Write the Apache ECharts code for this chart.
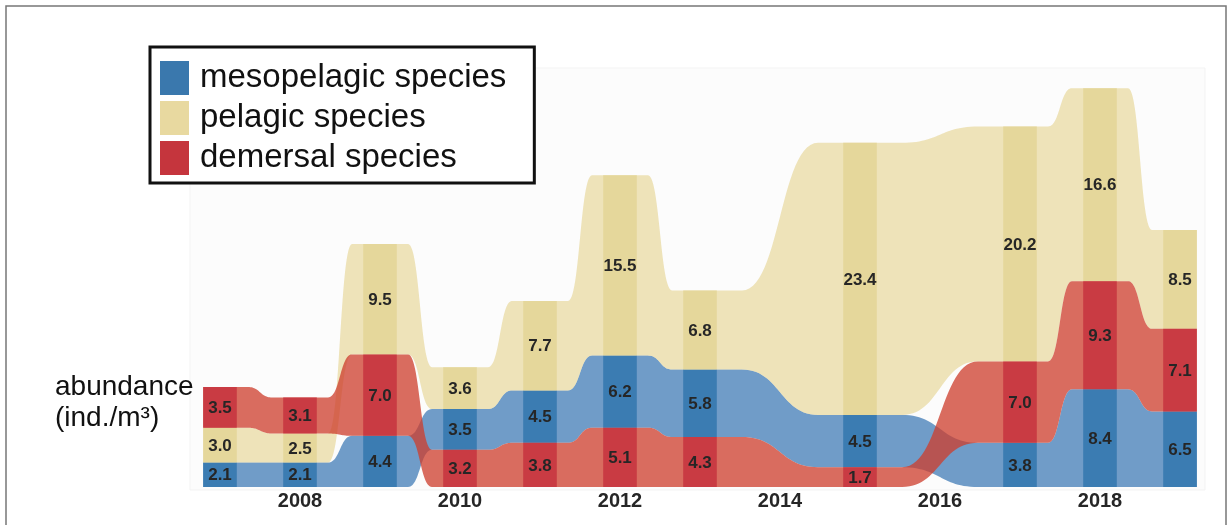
<!DOCTYPE html>
<html>
<head>
<meta charset="utf-8">
<script src="https://cdn.jsdelivr.net/npm/echarts@6/dist/echarts.min.js"></script>
<style>html,body{margin:0;padding:0;background:#fff}#c{width:1231px;height:525px}</style>
</head>
<body>
<div id="c"></div>
<script>
// ---- data ----
const years = ['2007','2008','2009','2010','2011','2012','2013','2014','2015','2016','2017','2018','2019'];
const mesopelagic = [2.1, 2.1, 4.4, 3.5, 4.5, 6.2, 5.8, null, 4.5, null, 3.8, 8.4, 6.5];
const pelagic     = [3.0, 2.5, 9.5, 3.6, 7.7, 15.5, 6.8, null, 23.4, null, 20.2, 16.6, 8.5];
const demersal    = [3.5, 3.1, 7.0, 3.2, 3.8, 5.1, 4.3, null, 1.7, null, 7.0, 9.3, 7.1];
const speciesNames = ['mesopelagic species', 'pelagic species', 'demersal species'];
const yTitle = 'abundance\n(ind./m³)';

// ---- styles ----
const ribbonColors = ['rgba(45,110,175,0.68)', 'rgba(225,205,130,0.55)', 'rgba(205,62,45,0.76)'];
const barColors = ['#3b7cb2', '#e5d79b', '#c93b43'];
const legendColors = ['#3a78ad', '#e8d9a0', '#c5353d'];
const FONT = '"Liberation Sans", Arial, sans-serif';

const seriesVals = [mesopelagic, pelagic, demersal];

function stackAt(i, s) {
  const v = seriesVals[s][i];
  if (v == null) return null;
  let bottom = 0;
  for (let k = 0; k < seriesVals.length; k++) {
    if (k === s) continue;
    const o = seriesVals[k][i];
    if (o == null) continue;
    if (o < v || (o === v && k < s)) bottom += o;
  }
  return [bottom, bottom + v];
}

function bez(p0, p1, p2, p3, n, out) {
  for (let j = 1; j <= n; j++) {
    const t = j / n, u = 1 - t;
    out.push([
      u*u*u*p0[0] + 3*u*u*t*p1[0] + 3*u*t*t*p2[0] + t*t*t*p3[0],
      u*u*u*p0[1] + 3*u*u*t*p1[1] + 3*u*t*t*p2[1] + t*t*t*p3[1]
    ]);
  }
}

function edge(pts, key, band, we) {
  const out = [];
  for (let k = 0; k < pts.length; k++) {
    const p = pts[k];
    const y = p[key];
    if (k === 0) {
      out.push([p.x - we, y]);
    } else {
      const prev = pts[k - 1];
      const gap = (p.x - prev.x) / band;               // in years
      const tw = band * (0.3 + (gap - 1) * 0.65);       // transition width
      const mid = (prev.x + p.x) / 2;
      const a = [mid - tw / 2, prev[key]];
      const b = [mid + tw / 2, y];
      out.push(a.slice());
      const m = (b[0] - a[0]) * 0.5;
      bez(a, [a[0] + m, a[1]], [b[0] - m, b[1]], b, 28, out);
    }
    if (k === pts.length - 1) out.push([p.x + we, y]);
  }
  return out;
}

function ribbonItem(params, api) {
  const s = api.value(2);
  const band = api.size([1, 0])[0];
  const we = band * 0.21;
  const pts = [];
  for (let i = 0; i < years.length; i++) {
    const st = stackAt(i, s);
    if (!st) continue;
    pts.push({
      x: api.coord([i, 0])[0],
      b: api.coord([i, st[0]])[1],
      t: api.coord([i, st[1]])[1]
    });
  }
  const top = edge(pts, 't', band, we);
  const bottom = edge(pts, 'b', band, we).reverse();
  return {
    type: 'polygon',
    shape: { points: top.concat(bottom) },
    style: { fill: ribbonColors[s] }
  };
}

function barItem(params, api) {
  const i = api.value(0), b = api.value(1), t = api.value(2), s = api.value(3);
  const band = api.size([1, 0])[0];
  const bw = band * 0.42;
  const x = api.coord([i, 0])[0];
  const y0 = api.coord([i, b])[1], y1 = api.coord([i, t])[1];
  return {
    type: 'group',
    children: [
      { type: 'rect', shape: { x: x - bw / 2, y: y1, width: bw, height: y0 - y1 }, style: { fill: barColors[s] } },
      { type: 'text', style: { text: seriesVals[s][i].toFixed(1), x: x, y: (y0 + y1) / 2 + 1, align: 'center', verticalAlign: 'middle',
        fontFamily: FONT, fontWeight: 'bold', fontSize: 17, fill: '#262626' } }
    ]
  };
}

const ribbonData = speciesNames.map((n, s) => [0, 0, s]);
const barData = [];
for (let i = 0; i < years.length; i++) {
  for (let s = 0; s < seriesVals.length; s++) {
    const st = stackAt(i, s);
    if (st) barData.push([i, st[0], st[1], s]);
  }
}

const chart = echarts.init(document.getElementById('c'), null, { renderer: 'canvas' });
chart.setOption({
  animation: false,
  backgroundColor: '#fff',
  grid: { left: 180, right: 11, top: 80, bottom: 38 },
  xAxis: {
    type: 'category', data: years, boundaryGap: true,
    axisLine: { show: false }, axisTick: { show: false }, splitLine: { show: false },
    axisLabel: { interval: (idx, v) => (+v) % 2 === 0, fontFamily: FONT, fontWeight: 'bold', fontSize: 20, color: '#262626', margin: 4 }
  },
  yAxis: { type: 'value', min: 0, max: 35, show: false },
  legend: {
    orient: 'vertical', left: 150, top: 47, icon: 'rect', itemWidth: 29, itemHeight: 34, itemGap: 6,
    padding: [14, 28, 8, 10], backgroundColor: '#fff', borderColor: '#111', borderWidth: 3,
    selectedMode: false, data: speciesNames,
    textStyle: { fontSize: 33, color: '#111', fontFamily: FONT, padding: [0, 0, 0, 6] }
  },
  graphic: [
    { type: 'rect', z: -10, shape: { x: 6, y: 6, width: 1220, height: 530 }, style: { fill: 'none', stroke: '#777', lineWidth: 1.5 } },
    { type: 'rect', z: -9, shape: { x: 190, y: 68, width: 1015, height: 422 }, style: { fill: '#fcfcfc', stroke: '#f3f3f3', lineWidth: 1 } },
    { type: 'text', left: 55, top: 372, style: { text: yTitle, fontFamily: FONT, fontSize: 28, lineHeight: 31, fill: '#111' } }
  ],
  series: [
    { type: 'custom', name: 'ribbons', renderItem: ribbonItem, data: ribbonData, encode: { x: 0, y: 1 }, clip: false, silent: true, z: 2 },
    { type: 'custom', name: 'bars', renderItem: barItem, data: barData, encode: { x: 0, y: [1, 2] }, clip: false, silent: true, z: 3 },
    { type: 'bar', name: speciesNames[0], data: [], itemStyle: { color: legendColors[0] } },
    { type: 'bar', name: speciesNames[1], data: [], itemStyle: { color: legendColors[1] } },
    { type: 'bar', name: speciesNames[2], data: [], itemStyle: { color: legendColors[2] } }
  ]
});
</script>
</body>
</html>
